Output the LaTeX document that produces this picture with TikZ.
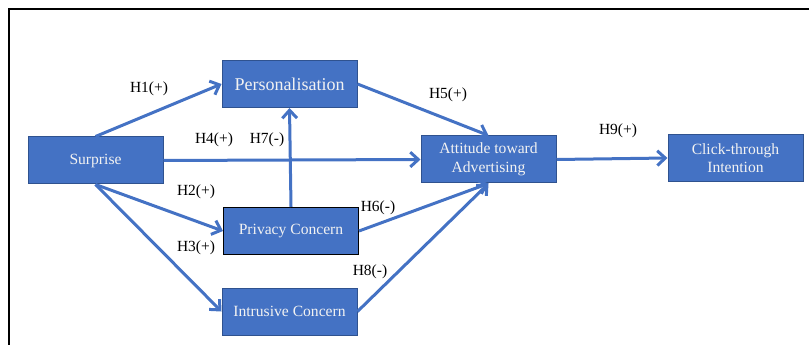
\documentclass[tikz,border=0pt]{standalone}
\usepackage{fontspec}
\setmainfont{Liberation Serif}
\usetikzlibrary{arrows.meta}

\definecolor{boxblue}{RGB}{68,114,196}
\definecolor{boxedge}{RGB}{47,82,143}
\definecolor{boxtext}{RGB}{242,242,242}

\tikzset{every picture/.style={line width=0.75pt},
  construct/.style={draw=boxedge, fill=boxblue, text=boxtext, minimum width=101.25pt, minimum height=35.25pt, inner sep=0.75pt, align=center, font=\fontsize{11.7}{14}\selectfont},
  path arrow/.style={draw=boxblue, line width=2.25pt, -{Straight Barb[length=6pt,width=11pt]}},
  hyp/.style={inner sep=0.75pt, font=\fontsize{11.6}{14}\selectfont}
}

\begin{document}
\begin{tikzpicture}[x=0.75pt,y=0.75pt,yscale=-1,xscale=1]
\useasboundingbox (0,0) rectangle (809,345);

%Shape: Frame
\draw [line width=1.5pt] (9,345) -- (9,9) -- (809,9) ;

% Constructs
\node [construct] (surprise) at (95.5,160.5) {Surprise};
\node [construct, font=\fontsize{13.5}{16}\selectfont] (personal) at (289.5,84) {Personalisation};
\node [construct] (attitude) at (488.5,159.5) {Attitude toward\\Advertising};
\node [construct] (click) at (735.5,158) {Click-through\\Intention};
\node [construct, draw=black] (privacy) at (291,231) {Privacy Concern};
\node [construct] (intrusive) at (289.5,311.5) {Intrusive Concern};

% Paths
\draw [path arrow] (surprise.north) -- (personal.west) ;
\draw [path arrow] (surprise.east) -- (attitude.west) ;
\draw [path arrow] (privacy.north) -- (personal.south) ;
\draw [path arrow] (surprise.south) -- (privacy.west) ;
\draw [path arrow] (surprise.south) -- (intrusive.west) ;
\draw [path arrow] (personal.east) -- (attitude.north) ;
\draw [path arrow] (privacy.east) -- (attitude.south) ;
\draw [path arrow] (intrusive.east) -- (attitude.south) ;
\draw [path arrow] (attitude.east) -- (click.west) ;

% Text Node
\node [hyp] (h1) at (149,89) {H1(+)};
% Text Node
\node [hyp] (h2) at (196,192) {H2(+)};
% Text Node
\node [hyp] (h3) at (196,248) {H3(+)};
% Text Node
\node [hyp] (h4) at (214,140) {H4(+)};
% Text Node
\node [hyp] (h5) at (448,95) {H5(+)};
% Text Node
\node [hyp] (h6) at (378,208) {H6(-)};
% Text Node
\node [hyp] (h7) at (267,140) {H7(-)};
% Text Node
\node [hyp] (h8) at (370,272) {H8(-)};
% Text Node
\node [hyp] (h9) at (618,131) {H9(+)};

\end{tikzpicture}
\end{document}
